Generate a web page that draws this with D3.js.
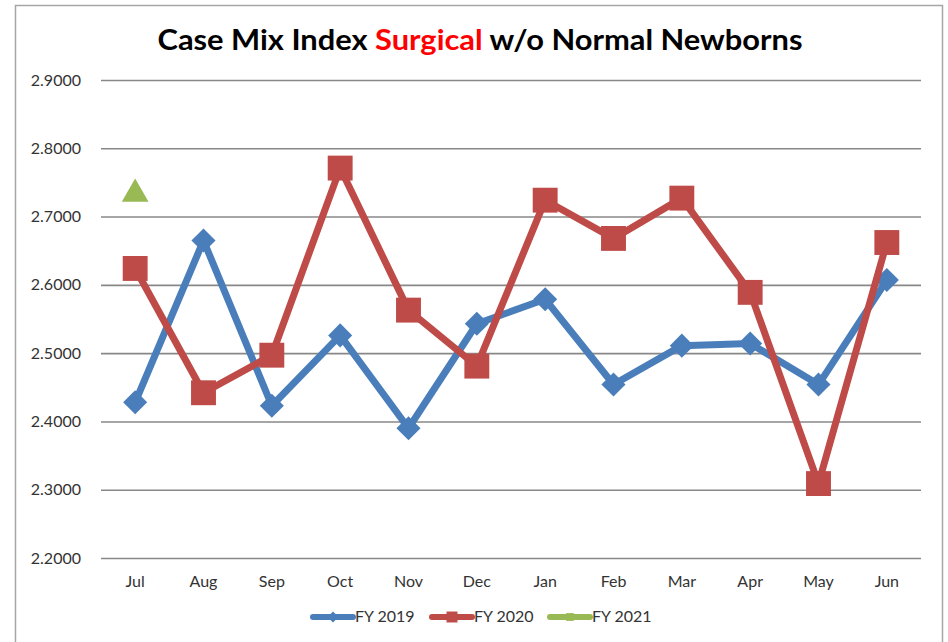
<!DOCTYPE html>
<html>
<head>
<meta charset="utf-8">
<script src="https://cdn.jsdelivr.net/npm/d3@7"></script>
<style>
  body { margin: 0; background: #fff; }
  svg { display: block; font-family: Lato, "Open Sans", sans-serif; }
</style>
</head>
<body>
<svg id="chart" width="948" height="642"></svg>
<script>
// data
var months = ["Jul", "Aug", "Sep", "Oct", "Nov", "Dec", "Jan", "Feb", "Mar", "Apr", "May", "Jun"]
var fy2019 = [2.428, 2.665, 2.423, 2.526, 2.390, 2.543, 2.579, 2.454, 2.511, 2.514, 2.454, 2.607]
var fy2020 = [2.624, 2.442, 2.497, 2.771, 2.563, 2.481, 2.724, 2.668, 2.727, 2.589, 2.309, 2.662]
var fy2021 = [2.733]
var yTicks = [2.2, 2.3, 2.4, 2.5, 2.6, 2.7, 2.8, 2.9]

var series = [
    { name: "FY 2019", values: fy2019, color: "#4a7ebb", marker: "diamond" },
    { name: "FY 2020", values: fy2020, color: "#be4b48", marker: "square" },
    { name: "FY 2021", values: fy2021, color: "#98b954", marker: "triangle" }
]

var svg = d3.select("#chart")

// outer frame
svg.append("rect")
    .attr("x", 15.5).attr("y", 5.5)
    .attr("width", 927).attr("height", 650)
    .attr("fill", "none")
    .attr("stroke", "#a6a6a6")
    .attr("stroke-width", 1.5)

var x = d3.scaleBand().domain(months).range([101, 921])
var y = d3.scaleLinear().domain([2.2, 2.9]).range([558, 80])

// title
var title = svg.append("text")
    .attr("x", 480).attr("y", 50)
    .attr("text-anchor", "middle")
    .attr("font-size", 29)
    .attr("font-weight", "bold")
    .attr("textLength", 645)
    .attr("lengthAdjust", "spacingAndGlyphs")
title.append("tspan").text("Case Mix Index ")
title.append("tspan").attr("fill", "#ff0000").text("Surgical")
title.append("tspan").text(" w/o Normal Newborns")

// y grid + labels
var yAxis = d3.axisLeft(y)
    .tickValues(yTicks)
    .tickSize(-(x.range()[1] - x.range()[0]))
    .tickFormat(d3.format(".4f"))
    .tickPadding(20)

svg.append("g")
    .attr("transform", "translate(" + x.range()[0] + ",0)")
    .call(yAxis)
    .call(g => g.select(".domain").remove())
    .call(g => g.selectAll("line").attr("stroke", "#888").attr("stroke-width", 1.6))
    .call(g => g.selectAll("text").attr("fill", "#333").attr("font-size", 16).attr("font-family", "Lato, sans-serif"))

// x labels
var xAxis = d3.axisBottom(x).tickSize(0).tickPadding(18)
svg.append("g")
    .attr("transform", "translate(0," + y(2.2) + ")")
    .call(xAxis)
    .call(g => g.select(".domain").remove())
    .call(g => g.selectAll("text").attr("fill", "#333").attr("font-size", 16).attr("font-family", "Lato, sans-serif"))

var cx = (d, i) => x(months[i]) + x.bandwidth() / 2

var line = d3.line()
    .x(cx)
    .y(d => y(d))

var symbolFor = {
    diamond: d3.symbol().type(d3.symbolSquare).size(290),
    square: d3.symbol().type(d3.symbolSquare).size(620),
    triangle: d3.symbol().type(d3.symbolTriangle).size(310)
}
var rotateFor = { diamond: 45, square: 0, triangle: 0 }

series.forEach(s => {
    var g = svg.append("g")
    g.append("path")
        .attr("d", line(s.values))
        .attr("fill", "none")
        .attr("stroke", s.color)
        .attr("stroke-width", 7)
        .attr("stroke-linejoin", "round")

    g.selectAll("path.mark")
        .data(s.values)
        .enter()
        .append("path")
        .attr("class", "mark")
        .attr("d", symbolFor[s.marker])
        .attr("fill", s.color)
        .attr("transform", (d, i) => "translate(" + cx(d, i) + "," + y(d) + ") rotate(" + rotateFor[s.marker] + ")")
})

// legend
var legendX = [313, 432, 550]
var legend = svg.append("g").selectAll("g")
    .data(series)
    .enter()
    .append("g")
    .attr("transform", (d, i) => "translate(" + legendX[i] + ",617)")

legend.append("line")
    .attr("x1", 0).attr("x2", 40)
    .attr("stroke", d => d.color)
    .attr("stroke-width", 6)
    .attr("stroke-linecap", "round")

legend.append("path")
    .attr("d", d => d3.symbol().type(d3.symbolSquare).size(d.marker == "square" ? 120 : 60)())
    .attr("fill", d => d.color)
    .attr("transform", d => "translate(20,0) rotate(" + rotateFor[d.marker] + ")")

legend.append("text")
    .attr("x", 42).attr("y", 5)
    .attr("font-size", 16)
    .attr("fill", "#333")
    .text(d => d.name)
</script>
</body>
</html>
